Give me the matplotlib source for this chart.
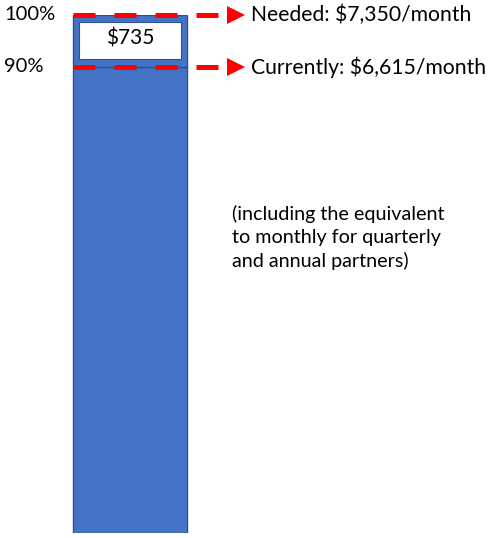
import matplotlib.pyplot as plt
from matplotlib.patches import Rectangle

# values
levels = [100, 90]
level_labels = ['100%', '90%']
notes = ['Needed: $7,350/month', 'Currently: $6,615/month']
gap_label = '$735'
footnote = '(including the equivalent\nto monthly for quarterly\nand annual partners)'

plt.rcParams['font.family'] = ['Lato', 'DejaVu Sans']

fig = plt.figure(figsize=(4.9, 5.38), dpi=100)
ax = fig.add_axes([0, 5 / 538, 1, 518 / 538])
ax.set_xlim(0, 490)
ax.set_ylim(0, 100)
ax.axis('off')

blue = '#4472C4'
edge = '#2F528F'
bar_x, bar_w = 130, 114

# current part and the missing part on top
ax.bar(bar_x, levels[1], width=bar_w, color=blue, edgecolor=edge, linewidth=1)
ax.bar(bar_x, levels[0] - levels[1], width=bar_w, bottom=levels[1],
       color=blue, edgecolor=edge, linewidth=1)
ax.add_patch(Rectangle((bar_x - bar_w / 2 + 6, levels[1] + 1.5), bar_w - 12,
                       levels[0] - levels[1] - 2.9, facecolor='white',
                       edgecolor=edge, linewidth=0.8, zorder=3))
ax.text(bar_x, (levels[0] + levels[1]) / 2 + 0.4, gap_label, ha='center',
        va='center', fontsize=15, zorder=4)

for lvl, lab, note in zip(levels, level_labels, notes):
    ax.plot([bar_x - bar_w / 2, 222], [lvl, lvl], color='red', linewidth=3.6,
            dashes=(4.4, 3.8), solid_capstyle='butt', dash_capstyle='butt',
            zorder=5, clip_on=False)
    ax.plot(236, lvl, marker='>', markersize=13, color='red',
            markeredgewidth=0, zorder=5, clip_on=False)
    ax.text(4, lvl, lab, ha='left', va='center', fontsize=14.5)
    ax.text(251, lvl, note, ha='left', va='center', fontsize=15.2)

ax.text(232, 57, footnote, ha='left', va='center', fontsize=14.2,
        linespacing=1.42)

fig.savefig('out.png', dpi=100)
